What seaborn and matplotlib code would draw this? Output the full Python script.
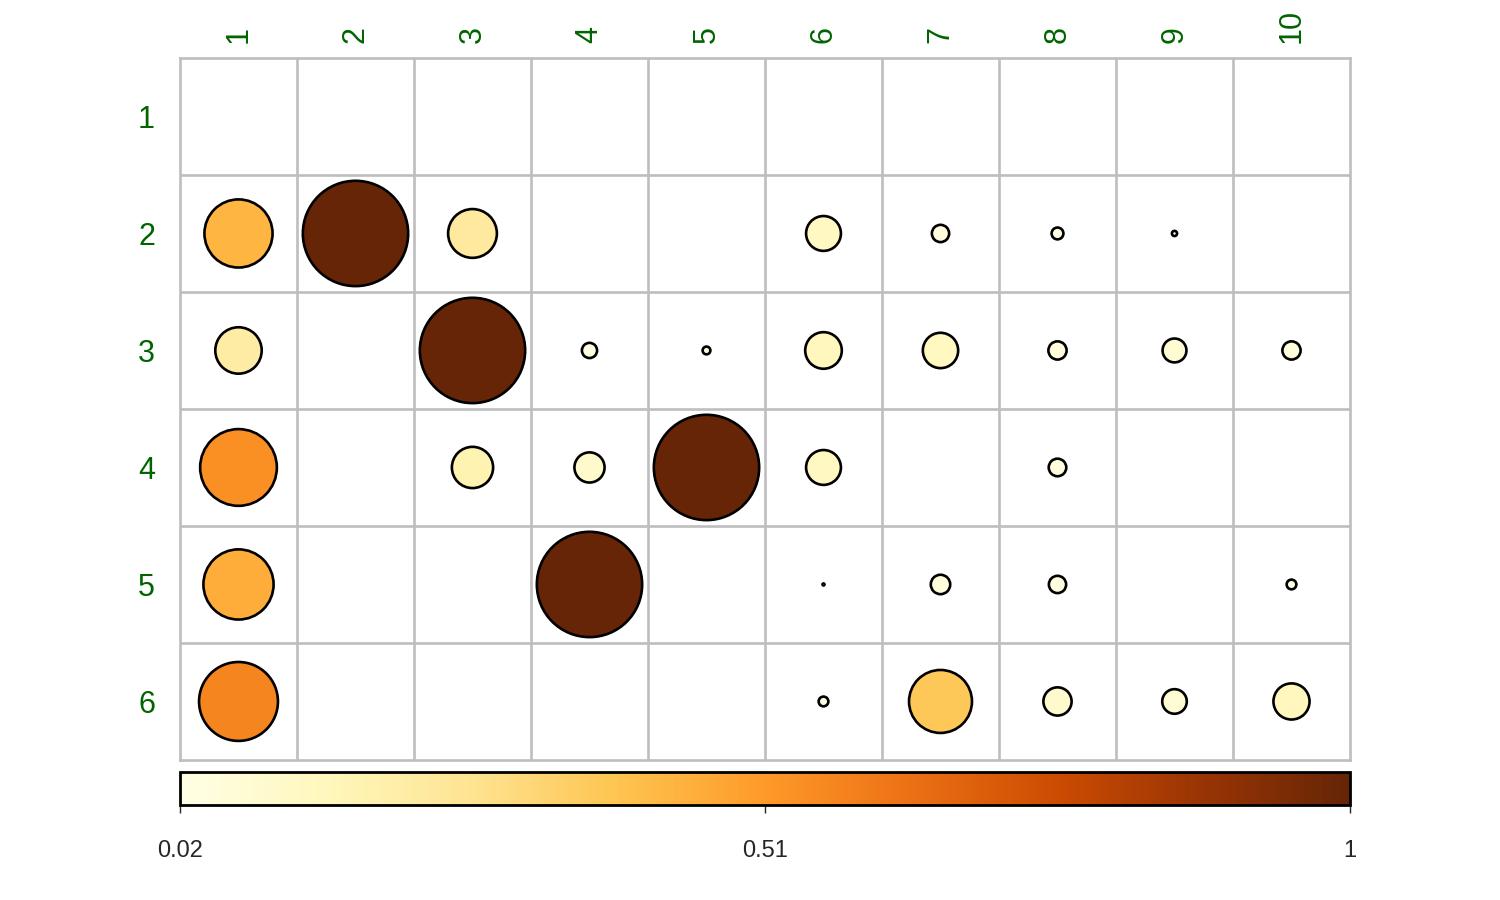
import numpy as np
import pandas as pd
import seaborn as sns
import matplotlib.pyplot as plt
from matplotlib.colors import Normalize
from matplotlib.cm import ScalarMappable

# values (NaN = empty cell)
row_labels = ["1", "2", "3", "4", "5", "6"]
col_labels = ["1", "2", "3", "4", "5", "6", "7", "8", "9", "10"]
nan = np.nan
row1 = [nan, nan, nan, nan, nan, nan, nan, nan, nan, nan]
row2 = [0.43, 1.00, 0.23, nan, nan, 0.127, 0.046, 0.032, 0.022, nan]
row3 = [0.21, nan, 1.00, 0.04, 0.025, 0.138, 0.13, 0.049, 0.07, 0.049]
row4 = [0.54, nan, 0.17, 0.10, 1.00, 0.127, nan, 0.047, nan, nan]
row5 = [0.455, nan, nan, 1.00, nan, 0.02, 0.053, 0.046, nan, 0.028]
row6 = [0.57, nan, nan, nan, nan, 0.028, 0.37, 0.09, 0.073, 0.135]
cbar_ticks = [0.02, 0.51, 1]
vmin, vmax = 0.02, 1.0

rows = [row1, row2, row3, row4, row5, row6]
recs = []
for i, r in enumerate(rows):
    for j, v in enumerate(r):
        if not np.isnan(v):
            recs.append({"x": j + 1, "y": i + 1, "value": v})
df = pd.DataFrame(recs)

# corrplot style circle size: radius = 0.45 * sqrt(scaled value) of a cell
fig_w, fig_h, dpi = 15, 9, 100
left, right, bottom, top = 0.12, 0.90, 0.1556, 0.9356
cell_px = (right - left) * fig_w * dpi / len(col_labels)
scaled = (df["value"] - vmin) / (vmax - vmin)
radius_pt = 0.45 * np.sqrt(scaled) * cell_px * 72 / dpi
df["area"] = (2 * radius_pt) ** 2 + 2.0

sns.set_style("white")
plt.rcParams["font.family"] = ["Liberation Sans", "DejaVu Sans"]

fig = plt.figure(figsize=(fig_w, fig_h), dpi=dpi)
ax = fig.add_axes([left, bottom, right - left, top - bottom])

sns.scatterplot(data=df, x="x", y="y", hue="value", palette="YlOrBr",
                hue_norm=(vmin, vmax), size="area",
                sizes=(df["area"].min(), df["area"].max()),
                size_norm=(df["area"].min(), df["area"].max()),
                edgecolor="black", linewidth=1.9, legend=False, ax=ax, zorder=3)

ax.set_xlim(0.5, len(col_labels) + 0.5)
ax.set_ylim(len(row_labels) + 0.5, 0.5)
ax.set_xticks(range(1, len(col_labels) + 1))
ax.set_xticklabels(col_labels, rotation=90, color="#006400", fontsize=22)
ax.set_yticks(range(1, len(row_labels) + 1))
ax.set_yticklabels(row_labels, color="#006400", fontsize=22)
ax.xaxis.tick_top()
ax.tick_params(axis="x", length=0, pad=11)
ax.tick_params(axis="y", length=0, pad=18)
ax.set_xticks(np.arange(1.5, len(col_labels)), minor=True)
ax.set_yticks(np.arange(1.5, len(row_labels)), minor=True)
ax.tick_params(which="minor", length=0)
ax.grid(which="minor", color="#bebebe", linewidth=1.9)
ax.grid(which="major", visible=False)
ax.set_axisbelow(True)
for s in ax.spines.values():
    s.set_color("#bebebe")
    s.set_linewidth(1.9)
ax.set_xlabel("")
ax.set_ylabel("")

# color legend below the grid
cax = fig.add_axes([left, 0.1056, right - left, 0.0367])
sm = ScalarMappable(norm=Normalize(vmin, vmax), cmap="YlOrBr")
cb = fig.colorbar(sm, cax=cax, orientation="horizontal", ticks=cbar_ticks)
cb.ax.set_xticklabels([str(t) for t in cbar_ticks])
cb.ax.tick_params(length=6, width=1, pad=19, labelsize=17, direction="out")
cb.outline.set_linewidth(2)
cb.outline.set_edgecolor("black")

fig.savefig("out.png", dpi=dpi)
